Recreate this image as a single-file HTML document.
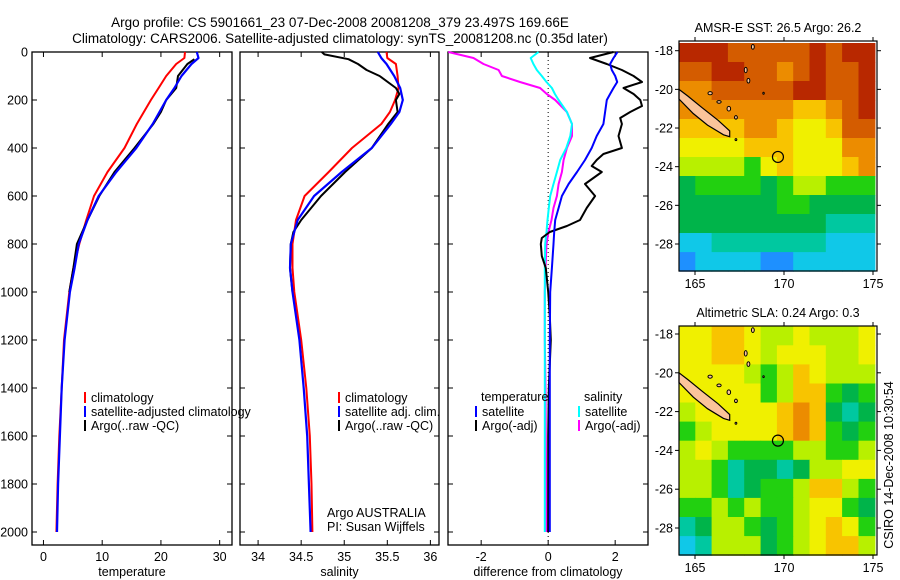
<!DOCTYPE html>
<html><head><meta charset="utf-8"><style>
body{margin:0;background:#fff;}
svg{display:block;font-family:"Liberation Sans",sans-serif;}
</style></head><body>
<svg id="chart" width="900" height="580" viewBox="0 0 900 580">
<text x="340" y="27" font-size="13.5" text-anchor="middle">Argo profile: CS 5901661_23 07-Dec-2008 20081208_379 23.497S 169.66E</text>
<text x="340" y="43" font-size="13.5" text-anchor="middle">Climatology: CARS2006. Satellite-adjusted climatology: synTS_20081208.nc (0.35d later)</text>
<text transform="translate(893,465) rotate(-90)" font-size="12.5" text-anchor="middle">CSIRO 14-Dec-2008 10:30:54</text>
</svg>
<script>
// ---------- profile data ----------
const depthT = [0,25,50,100,150,200,300,400,500,600,700,800,900,1000,1200,1400,1600,1800,2000];
const tempClim = [24.1,24.0,22.6,20.9,19.6,18.3,15.9,13.8,10.9,8.6,7.3,6.1,5.1,4.4,3.5,3.1,2.7,2.4,2.2];
const tempSat  = [26.1,26.4,25.2,23.5,22.3,20.9,18.6,15.8,12.4,9.4,7.5,6.0,5.3,4.5,3.6,3.1,2.8,2.5,2.3];
const depthTA = [30,50,100,150,200,250,300,400,500,600,700,800,900,1000];
const tempArgo = [25.7,24.5,22.9,22.6,20.9,20.0,18.7,15.5,12.1,9.5,7.5,5.7,5.1,4.4];

const depthS = [0,25,50,100,150,200,250,300,400,500,600,700,800,900,1000,1200,1400,1600,1800,2000];
const salClim = [35.49,35.50,35.60,35.62,35.63,35.59,35.53,35.43,35.09,34.82,34.54,34.44,34.40,34.40,34.42,34.50,34.56,34.60,34.62,34.63];
const salSat  = [35.39,35.43,35.49,35.58,35.65,35.68,35.64,35.54,35.32,34.97,34.65,34.46,34.38,34.37,34.40,34.48,34.53,34.57,34.59,34.61];
const depthSA = [0,10,30,50,75,100,150,175,200,250,300,400,500,600,700,750,800,900,1000];
const salArgo = [34.74,34.77,35.05,35.16,35.26,35.41,35.60,35.64,35.60,35.62,35.51,35.32,35.01,34.73,34.50,34.41,34.38,34.37,34.40];

const depthD = [0,25,50,75,100,125,150,175,200,250,300,350,400,450,500,550,600,650,700,750,800,900,1000,1200,1400,1600,1800,2000];
const dSalArgo = [-2.98,-2.23,-1.93,-1.48,-1.38,-0.84,-0.24,-0.04,0.21,0.56,0.71,0.71,0.56,0.46,0.41,0.31,0.26,0.16,0.10,0.01,-0.05,-0.08,-0.1,-0.1,-0.08,-0.07,-0.06,-0.05];
const dSalSat  = [-0.29,-0.52,-0.44,-0.34,-0.19,-0.05,0.11,0.2,0.31,0.56,0.71,0.66,0.54,0.36,0.26,0.16,0.06,0.02,-0.02,-0.05,-0.09,-0.1,-0.1,-0.1,-0.1,-0.1,-0.1,-0.1];
const dTempSat = [2.07,1.95,1.85,1.9,2.0,2.06,1.95,1.85,1.75,1.70,1.65,1.45,1.30,1.10,0.86,0.61,0.41,0.31,0.21,0.18,0.16,0.11,0.06,0.05,0.05,0.05,0.05,0.05];
const depthDA = [0,25,50,75,100,125,150,175,200,225,250,275,300,325,350,400,425,450,475,500,550,600,650,700,725,750,775,800,850,900,1000,1100,1200,1400,1600,1800,2000];
const dTempArgo = [1.95,1.25,1.75,2.2,2.55,2.8,2.25,2.55,2.75,2.8,2.45,2.15,2.2,2.15,2.1,2.2,1.65,1.45,1.3,1.6,1.1,1.4,1.15,0.95,0.56,0.05,-0.19,-0.22,-0.19,-0.07,0,0.05,0.08,0.02,0,0,0];

const depthTicks = [0,200,400,600,800,1000,1200,1400,1600,1800,2000];
const tempTicks = [0,10,20,30];
const salTicks = [34,34.5,35,35.5,36];
const diffTicks = [-2,0,2];

// ---------- map data (rows north->south, cols west->east) ----------
const sstGrid = [
[10,10,10,9,9,9,9,9,10,9,10,10],
[9,9,10,10,9,9,8,9,10,9,9,10],
[8,8,9,9,9,9,9,10,10,9,9,10],
[8,8,8,8,8,8,8,7,7,8,9,10],
[7,7,7,7,8,8,7,6,6,7,9,9],
[6,6,6,6,7,7,7,6,6,6,8,8],
[5,5,5,5,4,6,7,6,6,6,7,8],
[3,4,4,4,4,3,4,5,5,4,4,4],
[3,3,3,3,3,3,4,4,3,3,3,3],
[3,3,3,3,3,3,3,3,3,2,2,2],
[1,1,2,2,2,2,2,2,2,1,1,1],
[0,1,1,1,1,0,0,1,1,1,1,1]];
const slaGrid = [
[6,6,7,7,6,5,5,6,5,5,5,6],
[6,6,7,7,6,5,6,6,6,5,5,6],
[6,6,6,6,5,4,5,7,6,5,5,5],
[6,6,6,6,6,4,5,7,7,4,3,4],
[5,6,6,6,6,6,7,8,7,3,2,3],
[4,5,6,6,6,6,7,8,7,4,3,4],
[5,6,5,4,4,4,4,5,5,4,4,5],
[5,5,4,2,3,3,2,3,5,5,6,6],
[5,5,4,2,3,4,4,5,7,7,5,4],
[4,4,5,4,5,4,4,5,6,6,4,3],
[2,3,5,5,4,3,4,5,6,7,6,4],
[1,2,5,5,5,3,4,5,6,7,7,5]];
const lonTicks = [165,170,175];
const latTicks = [-18,-20,-22,-24,-26,-28];
const floatLon = 169.66, floatLat = -23.497;
const mainIsland = [[164.1,-20.0],[164.6,-20.35],[165.4,-20.95],[166.3,-21.6],[166.95,-22.15],[166.95,-22.45],[166.6,-22.35],[165.7,-21.85],[164.9,-21.25],[164.1,-20.5]];
const smallIslands = [[168.25,-17.8,0.08,0.12],[167.85,-19.0,0.08,0.14],[168.0,-19.55,0.08,0.12],[165.85,-20.2,0.12,0.08],[166.35,-20.65,0.12,0.07],[166.9,-21.0,0.1,0.12],[167.3,-21.45,0.08,0.09],[168.85,-20.2,0.04,0.05],[167.3,-22.6,0.05,0.05]];
const cmap = ['#1e90ff','#10c8e8','#00c8a0','#00b44a','#22d010','#b8f000','#f0f000','#f8c400','#ec8c00','#d45c00','#b82800'];

const svg = document.getElementById('chart');
const NS = 'http://www.w3.org/2000/svg';
function mk(tag, attrs, parent){const e=document.createElementNS(NS,tag);for(const k in attrs)e.setAttribute(k,attrs[k]);(parent||svg).appendChild(e);return e;}

const yTop=52, yBot=545;
function yDepth(d){return yTop + d*0.2400;}

function panel(name, x0, x1, xmin, xmax, ticks, label, showY){
  const g = mk('g',{});
  
  
  const xs = v => x0 + (v-xmin)/(xmax-xmin)*(x1-x0);
  const fr = mk('rect',{x:x0,y:yTop,width:x1-x0,height:yBot-yTop,fill:'none',stroke:'#000','stroke-width':1.3},g);
  
  
  depthTicks.forEach(d=>{
    const y=yDepth(d);
    mk('line',{x1:x0,x2:x0+5,y1:y,y2:y,stroke:'#000'},g);
    mk('line',{x1:x1-5,x2:x1,y1:y,y2:y,stroke:'#000'},g);
    if(showY){const t=mk('text',{x:x0-4,y:y+4.5,'font-size':12.5,'text-anchor':'end'},g);t.textContent=d;
      
      }
  });
  ticks.forEach(v=>{
    const x=xs(v);
    mk('line',{x1:x,x2:x,y1:yBot,y2:yBot-5,stroke:'#000'},g);
    mk('line',{x1:x,x2:x,y1:yTop,y2:yTop+5,stroke:'#000'},g);
    const t=mk('text',{x:x,y:yBot+16,'font-size':12.5,'text-anchor':'middle'},g);t.textContent=v;
    
    
  });
  const lt=mk('text',{x:(x0+x1)/2,y:yBot+31,'font-size':12.5,'text-anchor':'middle'},g);lt.textContent=label;
  
  
  return {g,xs};
}
function series(p, depths, vals, color, w, name){
  const d = depths.map((dp,i)=>(i?'L':'M')+p.xs(vals[i]).toFixed(1)+','+yDepth(dp).toFixed(1)).join('');
  const e = mk('path',{d:d,fill:'none',stroke:color,'stroke-width':w,'stroke-linejoin':'round'},p.g);
  
  
}
function legend(g, x, y, color, text){
  mk('rect',{x:x,y:y-9,width:2,height:11,fill:color},g);
  const t=mk('text',{x:x+7,y:y+1,'font-size':12.5},g);t.textContent=text;
  
  
}

// Temperature panel
const pT = panel('temperature-panel',32,232,-1.95,32.1,tempTicks,'temperature',true);
series(pT,depthT,tempClim,'#f00',2,'temp-climatology-line');
series(pT,depthTA,tempArgo,'#000',2,'temp-argo-line');
series(pT,depthT,tempSat,'#00f',2.2,'temp-satellite-line');
legend(pT.g,84,401,'#f00','climatology');
legend(pT.g,84,415,'#00f','satellite-adjusted climatology');
legend(pT.g,84,429,'#000','Argo(..raw -QC)');
// salinity panel
const pS = panel('salinity-panel',240,439,33.79,36.1,salTicks,'salinity',false);
series(pS,depthS,salClim,'#f00',2,'sal-climatology-line');
series(pS,depthSA,salArgo,'#000',2,'sal-argo-line');
series(pS,depthS,salSat,'#00f',2.2,'sal-satellite-line');
legend(pS.g,338,401,'#f00','climatology');
legend(pS.g,338,415,'#00f','satellite adj. clim.');
legend(pS.g,338,429,'#000','Argo(..raw -QC)');
const a1=mk('text',{x:327,y:517,'font-size':12.5},pS.g);a1.textContent='Argo AUSTRALIA';


const a2=mk('text',{x:327,y:531,'font-size':12.5},pS.g);a2.textContent='PI: Susan Wijffels';


// difference panel
const pD = panel('difference-panel',448,648,-2.99,2.98,diffTicks,'difference from climatology',false);
mk('line',{x1:pD.xs(0),x2:pD.xs(0),y1:yTop,y2:yBot,stroke:'#000','stroke-dasharray':'1,3'},pD.g);
series(pD,depthD,dSalArgo,'#f0f',2,'diff-sal-argo-line');
series(pD,depthD,dSalSat,'#0ff',2,'diff-sal-satellite-line');
series(pD,depthDA,dTempArgo,'#000',2,'diff-temp-argo-line');
series(pD,depthD,dTempSat,'#00f',2,'diff-temp-satellite-line');
const h1=mk('text',{x:481,y:401,'font-size':12.5},pD.g);h1.textContent='temperature';


const h2=mk('text',{x:584,y:401,'font-size':12.5},pD.g);h2.textContent='salinity';


legend(pD.g,475,415,'#00f','satellite');
legend(pD.g,475,429,'#000','Argo(-adj)');
legend(pD.g,578,415,'#0ff','satellite');
legend(pD.g,578,429,'#f0f','Argo(-adj)');

// maps
function map(name, top, bottom, lat18y, lat28y, grid, title){
  const g=mk('g',{});
  
  
  const L=679,R=877;
  const lx = l => 695 + (l-165)*(873-695)/10;
  const ly = p => lat18y + (-18-p)*(lat28y-lat18y)/10;
  const lon0=164.1, lon1=175.1, lat0=-17.6, lat1=-29.4;
  const nr=grid.length, nc=grid[0].length;
  const dlon=(lon1-lon0)/nc, dlat=(lat0-lat1)/nr;
  grid.forEach((row,r)=>row.forEach((v,c)=>{
    const x=lx(lon0+c*dlon), y=ly(lat0-r*dlat);
    const cell=mk('rect',{x:x.toFixed(1),y:y.toFixed(1),width:(lx(lon0+(c+1)*dlon)-x+0.6).toFixed(1),height:(ly(lat0-(r+1)*dlat)-y+0.6).toFixed(1),fill:cmap[v]},g);
    
    
  }));
  const isl=mk('polygon',{points:mainIsland.map(p=>lx(p[0]).toFixed(1)+','+ly(p[1]).toFixed(1)).join(' '),fill:'#fbc49a',stroke:'#000','stroke-width':1.2},g);
  
  
  smallIslands.forEach(s=>{
    const e=mk('ellipse',{cx:lx(s[0]),cy:ly(s[1]),rx:s[2]*17.8,ry:s[3]*19.4,fill:'#fbc49a',stroke:'#000','stroke-width':1},g);
    
    
  });
  const fc=mk('circle',{cx:lx(floatLon),cy:ly(floatLat),r:5.5,fill:'none',stroke:'#000','stroke-width':1.2},g);
  
  
  mk('rect',{x:L,y:top,width:R-L,height:bottom-top,fill:'none',stroke:'#000','stroke-width':1.2},g);
  latTicks.forEach(p=>{const y=ly(p);
    mk('line',{x1:L-4,x2:L,y1:y,y2:y,stroke:'#000'},g);
    mk('line',{x1:R,x2:R+4,y1:y,y2:y,stroke:'#000'},g);
    const t=mk('text',{x:L-6,y:y+4.5,'font-size':12.5,'text-anchor':'end'},g);t.textContent=p;
    
    });
  lonTicks.forEach(l=>{const x=lx(l);
    mk('line',{x1:x,x2:x,y1:bottom,y2:bottom+4,stroke:'#000'},g);
    mk('line',{x1:x,x2:x,y1:top-4,y2:top,stroke:'#000'},g);
    const t=mk('text',{x:x,y:bottom+17,'font-size':12.5,'text-anchor':'middle'},g);t.textContent=l;
    
    });
  const tt=mk('text',{x:(L+R)/2,y:top-9,'font-size':12.5,'text-anchor':'middle'},g);tt.textContent=title;
  
  
}
map('sst-map',41,271,50.7,244,sstGrid,'AMSR-E SST: 26.5 Argo: 26.2');
map('sla-map',326,555,334,528,slaGrid,'Altimetric SLA: 0.24 Argo: 0.3');
</script>
</body></html>
